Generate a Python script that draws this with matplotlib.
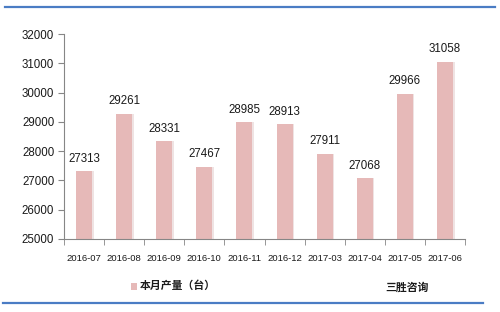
import matplotlib
matplotlib.use("Agg")
import matplotlib.pyplot as plt
from matplotlib.lines import Line2D
from matplotlib.patches import Rectangle

plt.rcParams['font.family'] = ['Liberation Sans', 'Noto Sans CJK SC', 'DejaVu Sans']

categories = ["2016-07", "2016-08", "2016-09", "2016-10", "2016-11", "2016-12",
              "2017-03", "2017-04", "2017-05", "2017-06"]
values = [27313, 29261, 28331, 27467, 28985, 28913, 27911, 27068, 29966, 31058]
yticks = [25000, 26000, 27000, 28000, 29000, 30000, 31000, 32000]
legend_label = "本月产量（台）"
source_label = "三胜咨询"

bar_color = "#E6B9B8"
axis_color = "#868686"

fig = plt.figure(figsize=(5.0, 3.12), dpi=100)
ax = fig.add_axes([0.128, 0.234, 0.802, 0.657])

x = list(range(len(categories)))
# subtle shadow
ax.bar([i + 0.04 for i in x], values, width=0.4, color="#EFE3E3", zorder=1)
ax.bar(x, values, width=0.4, color=bar_color, zorder=2)
for i, v in zip(x, values):
    ax.text(i, v + 230, str(v), ha="center", va="bottom", fontsize=8.3, color="#1a1a1a")

ax.set_xlim(-0.5, len(categories) - 0.5)
ax.set_ylim(25000, 32000)
ax.set_yticks(yticks)
ax.set_yticklabels([str(t) for t in yticks], fontsize=8.3, color="#1a1a1a")
ax.set_xticks(x)
ax.set_xticklabels(categories, fontsize=6.8, color="#1a1a1a")
ax.set_xticks([i - 0.5 for i in range(len(categories) + 1)], minor=True)
ax.tick_params(axis="x", which="major", length=0, pad=11)
ax.tick_params(axis="x", which="minor", length=4, color=axis_color, direction="out")
ax.tick_params(axis="y", length=4, color=axis_color, direction="out", pad=3)
for s in ["top", "right"]:
    ax.spines[s].set_visible(False)
for s in ["left", "bottom"]:
    ax.spines[s].set_color(axis_color)
    ax.spines[s].set_linewidth(0.8)

# legend and source
fig.patches.append(Rectangle((0.262, 0.072 + 0.0), 0.012, 0.02, transform=fig.transFigure,
                             facecolor=bar_color, edgecolor="none", figure=fig))
fig.text(0.28, 0.085, legend_label, fontsize=7.8, va="center", ha="left",
         family=['Noto Sans CJK SC', 'DejaVu Sans'], fontweight="bold", color="#1a1a1a")
fig.text(0.77, 0.078, source_label, fontsize=7.8, va="center", ha="left",
         family=['Noto Sans CJK SC', 'DejaVu Sans'], fontweight="bold", color="#1a1a1a")

# decorative top/bottom lines
fig.add_artist(Line2D([0.01, 0.99], [0.978, 0.978], color="#4A7CC4", lw=1.6, transform=fig.transFigure))
fig.add_artist(Line2D([0.006, 0.966], [0.029, 0.029], color="#4A7CC4", lw=1.6, transform=fig.transFigure))

fig.savefig("out.png", dpi=100)
